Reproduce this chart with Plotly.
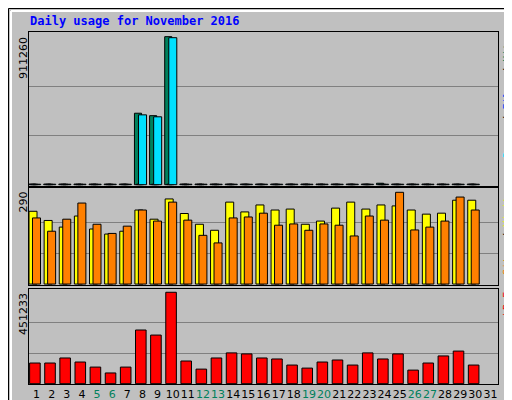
import plotly.graph_objects as go

days = list(range(1, 32))
weekend_days = [5, 6, 12, 13, 19, 20, 26, 27]

# top panel: hits / files / pages
hits = [4000] * 7 + [440000, 425000, 911260] + [4000] * 13 + [9000] + [4000] * 6
files = [3000] * 30
pages = [3000] * 7 + [430000, 418000, 905000] + [3000] * 20

# middle panel: visits / sites
visits = [230, 201, 180, 215, 174, 158, 167, 234, 205, 269, 223, 189, 170, 259, 228,
          250, 234, 237, 189, 199, 240, 259, 237, 250, 247, 234, 221, 224, 265, 265]
sites = [209, 167, 205, 256, 189, 160, 183, 234, 199, 259, 202, 154, 130, 209, 212,
         224, 186, 190, 170, 190, 186, 152, 215, 202, 290, 171, 180, 199, 275, 234]

# bottom panel: kbytes
kbytes = [102000, 102000, 127000, 107000, 82000, 53000, 82000, 265000, 240000, 451233,
          112000, 72000, 127000, 152000, 147000, 127000, 122000, 92000, 77000, 107000,
          117000, 92000, 152000, 122000, 147000, 67000, 102000, 137000, 161000, 92000]

W, H = 512, 400


def px(y):
    return 1 - y / H


fig = go.Figure()
d30 = days[:30]


def bar(x, y, color, offset, width, xa, ya):
    fig.add_trace(go.Bar(x=x, y=y, offset=offset, width=width, xaxis=xa, yaxis=ya,
                         marker=dict(color=color, line=dict(color='black', width=1)),
                         showlegend=False, hoverinfo='skip'))


bar(d30, hits, '#00805c', -0.53, 0.47, 'x', 'y')
bar(d30, files, '#0040ff', -0.4, 0.47, 'x', 'y')
bar(d30, pages, '#00e0ff', -0.26, 0.53, 'x', 'y')
bar(d30, visits, '#ffff00', -0.5, 0.53, 'x2', 'y2')
bar(d30, sites, '#ff8000', -0.27, 0.53, 'x2', 'y2')
bar(d30, kbytes, '#ff0000', -0.46, 0.7, 'x3', 'y3')

xdom = [21 / W, 490 / W]
axis_common = dict(range=[0.5, 31.5], domain=xdom, showgrid=False, zeroline=False,
                   showline=True, mirror=True, linecolor='black', linewidth=1,
                   fixedrange=True, automargin=False)
ticktext = ['<span style="color:%s">%d</span>' % ('#00805c' if d in weekend_days else 'black', d)
            for d in days]
fig.update_layout(
    width=W, height=H, margin=dict(l=0, r=0, t=0, b=0),
    paper_bgcolor='#c0c0c0', plot_bgcolor='#c0c0c0', barmode='overlay',
    font=dict(family='DejaVu Sans', size=11, color='black'),
    xaxis=dict(axis_common, anchor='y', showticklabels=False),
    xaxis2=dict(axis_common, anchor='y2', showticklabels=False),
    xaxis3=dict(axis_common, anchor='y3', tickvals=days, ticktext=ticktext, ticks='',
                tickangle=0, tickfont=dict(size=11)),
    yaxis=dict(domain=[px(178), px(24)], range=[-8000, 940000],
               tickvals=[303753, 607507]),
    yaxis2=dict(domain=[px(277), px(180)], range=[-3, 303.6], tickvals=[96.7, 193.3]),
    yaxis3=dict(domain=[px(376), px(281)], range=[-1500, 467400], tickvals=[150411, 300822]),
)
for ax in ['yaxis', 'yaxis2', 'yaxis3']:
    fig.layout[ax].update(showticklabels=False, gridcolor='#808080', gridwidth=1,
                          zeroline=False, showline=True, mirror=True, linecolor='black',
                          fixedrange=True, automargin=False)

fig.add_annotation(x=20 / W, y=px(4), xref='paper', yref='paper', xanchor='left', yanchor='top',
                   text='<b>Daily usage for November 2016</b>', showarrow=False,
                   font=dict(family='DejaVu Sans Mono', size=12, color='#0000ff'))

for label, ytop in [('911260', 27), ('290', 182), ('451233', 283)]:
    fig.add_annotation(x=15 / W, y=px(ytop), xref='paper', yref='paper', xanchor='center',
                       yanchor='top', text=label, textangle=-90, showarrow=False,
                       font=dict(family='DejaVu Sans', size=11, color='black'))

right = [
    ('<span style="color:#00e0ff">Pages</span> / <span style="color:#0040ff">Files</span>'
     ' / <span style="color:#00805c">Hits</span>', 28),
    ('<span style="color:#ff8000">Sites</span> / <span style="color:#ffff00">Visits</span>', 181),
    ('<span style="color:#ff0000">kB F</span>', 282),
]
for label, ytop in right:
    fig.add_annotation(x=499 / W, y=px(ytop), xref='paper', yref='paper', xanchor='center',
                       yanchor='top', text=label, textangle=-90, showarrow=False,
                       font=dict(family='DejaVu Sans Mono', size=10, color='black'))

# window frame with bevel
fig.add_shape(type='line', xref='paper', yref='paper', x0=3 / W, x1=506 / W, y0=px(3), y1=px(3),
              line=dict(color='white', width=2))
fig.add_shape(type='line', xref='paper', yref='paper', x0=3 / W, x1=3 / W, y0=px(3), y1=px(396),
              line=dict(color='white', width=2))
fig.add_shape(type='line', xref='paper', yref='paper', x0=3 / W, x1=508 / W, y0=px(396), y1=px(396),
              line=dict(color='#808080', width=4))
fig.add_shape(type='line', xref='paper', yref='paper', x0=507 / W, x1=507 / W, y0=px(3), y1=px(396),
              line=dict(color='#808080', width=4))
fig.add_shape(type='rect', xref='paper', yref='paper', x0=0.5 / W, x1=511.5 / W, y0=px(399.5),
              y1=px(0.5), line=dict(color='black', width=1))

fig.write_html("out.html")
